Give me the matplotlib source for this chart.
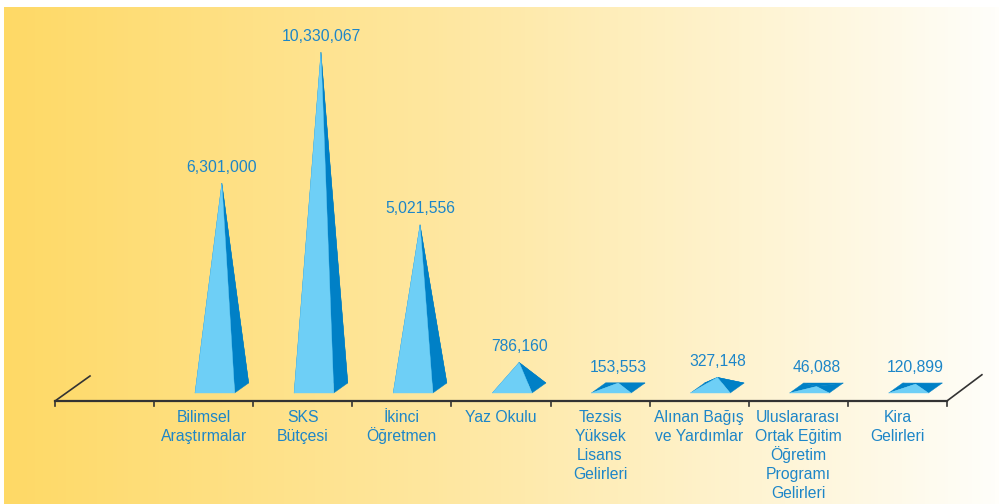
import matplotlib.pyplot as plt
import numpy as np
from matplotlib.colors import LinearSegmentedColormap
from matplotlib.patches import Polygon

# --- data ---
categories = ['Bilimsel\nAraştırmalar', 'SKS\nBütçesi', 'İkinci\nÖğretmen', 'Yaz Okulu',
              'Tezsis\nYüksek\nLisans\nGelirleri', 'Alınan Bağış\nve Yardımlar',
              'Uluslararası\nOrtak Eğitim\nÖğretim\nProgramı\nGelirleri', 'Kira\nGelirleri']
values = [6301000, 10330067, 5021556, 786160, 153553, 327148, 46088, 120899]
value_labels = ['6,301,000', '10,330,067', '5,021,556', '786,160',
                '153,553', '327,148', '46,088', '120,899']

plt.rcParams['font.family'] = ['Liberation Sans', 'DejaVu Sans']

light = '#6ECFF6'
dark = '#0080C6'
text_blue = '#1D86C8'
line_col = '#333333'

fig = plt.figure(figsize=(9.99, 5.04), dpi=100)

# background gradient panel
bg = fig.add_axes([4 / 999, 0, 995 / 999, 497 / 504])
cmap = LinearSegmentedColormap.from_list('bg', ['#FED966', '#FEE9A8', '#FFFEFA'])
bg.imshow(np.linspace(0, 1, 256)[None, :], aspect='auto', cmap=cmap, extent=[0, 1, 0, 1])
bg.axis('off')

ax = fig.add_axes([0, 0, 1, 1])
ax.patch.set_alpha(0)
ax.axis('off')

n_slots = len(categories) + 1
px_per_slot = 99.1
px_per_unit = 32.5e-6  # pixels per value unit
ax.set_xlim(-55 / px_per_slot, (999 - 55) / px_per_slot)
ax.set_ylim(-103 / px_per_unit, 401 / px_per_unit)

# depth direction of the floor
ddx = 35 / px_per_slot
ddy = 25 / px_per_unit


def proj(x, d, v):
    return (x + d * ddx, v + d * ddy)


# floor edges
ax.plot([0, n_slots], [0, 0], color=line_col, lw=1.6)
ax.plot([0, ddx], [0, ddy], color=line_col, lw=1.2)
ax.plot([n_slots, n_slots + ddx], [0, ddy * 1.05], color=line_col, lw=1.2)
for k in range(n_slots + 1):
    ax.plot([k, k], [0, -5 / px_per_unit], color=line_col, lw=1.2)

# pyramids
d0, d1 = 0.32, 0.72
w = 0.4
for j, (v, lab) in enumerate(zip(values, value_labels)):
    x0 = j + 1 + 0.5 - w / 2
    x1 = x0 + w
    FL = proj(x0, d0, 0)
    FR = proj(x1, d0, 0)
    BL = proj(x0, d1, 0)
    BR = proj(x1, d1, 0)
    apex = proj(j + 1.5, (d0 + d1) / 2, v)
    for pts, c in [((BL, BR, apex), dark), ((FL, BL, apex), dark),
                   ((FR, BR, apex), dark), ((FL, FR, apex), light)]:
        ax.add_patch(Polygon(pts, closed=True, facecolor=c, edgecolor=c, lw=0.3))
    top = max(apex[1], BL[1])
    ax.annotate(lab, (apex[0], top), xytext=(0, 6), textcoords='offset points',
                ha='center', va='bottom', fontsize=11.3, color=text_blue)

# category labels, one line at a time for even spacing
for j, cat in enumerate(categories):
    for i, line in enumerate(cat.split('\n')):
        ax.annotate(line, (j + 1.5, 0), xytext=(0, -(21 + 19 * i) * 0.72),
                    textcoords='offset points', ha='center', va='baseline',
                    fontsize=11.3, color=text_blue)

fig.savefig('out.png', dpi=100)
